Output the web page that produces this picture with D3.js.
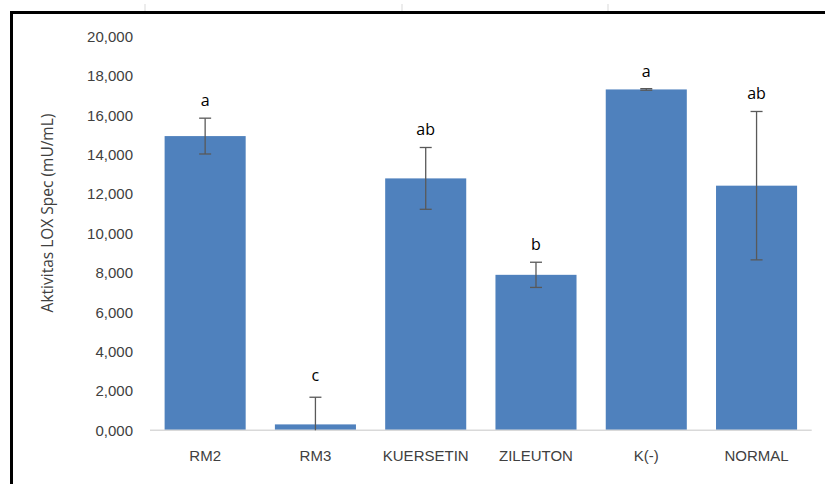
<!DOCTYPE html>
<html>
<head>
<meta charset="utf-8">
<script src="https://cdn.jsdelivr.net/npm/d3@7"></script>
<style>
	body { margin: 0; background: #fff; }
	svg { display: block; font-family: "Open Sans", sans-serif; }
</style>
</head>
<body>
<svg id="chart"></svg>
<script>
// chart data
const categories = ["RM2", "RM3", "KUERSETIN", "ZILEUTON", "K(-)", "NORMAL"];
const means = [14950, 300, 12800, 7900, 17320, 12430];
const errors = [910, 1380, 1570, 640, 40, 3770];
const letters = ["a", "c", "ab", "b", "a", "ab"];
const yTicks = [0, 2000, 4000, 6000, 8000, 10000, 12000, 14000, 16000, 18000, 20000];

const w = 825;
const h = 484;
const margin = { top: 36.7, right: 13.3, bottom: 53.7, left: 150 };

const svg = d3.select("#chart").attr("width", w).attr("height", h);

// frame of the chart box (black border on top and left)
svg.append("line")
	.attr("x1", 11.5).attr("x2", w)
	.attr("y1", 12.5).attr("y2", 12.5)
	.attr("stroke", "#000").attr("stroke-width", 3);
svg.append("line")
	.attr("x1", 11.5).attr("x2", 11.5)
	.attr("y1", 11).attr("y2", h)
	.attr("stroke", "#000").attr("stroke-width", 3);
// faint sheet grid marks above the border
[145, 402, 608].forEach((x) => {
	svg.append("line")
		.attr("x1", x).attr("x2", x)
		.attr("y1", 4).attr("y2", 11)
		.attr("stroke", "#d9d9d9").attr("stroke-width", 1);
});

const xScale = d3
	.scaleBand()
	.domain(categories)
	.range([margin.left, w - margin.right])
	.paddingInner(0.265)
	.paddingOuter(0.1325);

const yScale = d3
	.scaleLinear()
	.domain([0, 20000])
	.range([h - margin.bottom, margin.top]);

const fmt = (v) => d3.format(",")(v / 1000 | 0) + ",000";

// y axis labels only, no line
const yAxis = d3.axisLeft(yScale).tickValues(yTicks).tickSize(0).tickPadding(17)
	.tickFormat((d) => (d === 0 ? "0,000" : fmt(d)));
const gy = svg.append("g")
	.attr("transform", "translate(" + margin.left + ",0)")
	.call(yAxis);
gy.select(".domain").remove();
gy.selectAll("text")
	.attr("fill", "#404040")
	.style("font-size", "15px");

// axis title
svg.append("text")
	.attr("transform", "translate(47," + 213 + ") rotate(-90)")
	.attr("text-anchor", "middle")
	.attr("dominant-baseline", "central")
	.attr("fill", "#404040")
	.style("font-size", "15.5px")
	.text("Aktivitas LOX Spec (mU/mL)");

const rows = categories.map((c, i) => ({ c: c, m: means[i], e: errors[i], l: letters[i] }));

// bars
svg.selectAll("rect.bar")
	.data(rows)
	.enter()
	.append("rect")
	.attr("class", "bar")
	.attr("x", (d) => xScale(d.c))
	.attr("y", (d) => yScale(d.m))
	.attr("width", xScale.bandwidth())
	.attr("height", (d) => yScale(0) - yScale(d.m))
	.attr("fill", "#4f81bd");

// x axis line and labels
const xAxis = d3.axisBottom(xScale).tickSize(0).tickPadding(20);
const gx = svg.append("g")
	.attr("transform", "translate(0," + yScale(0) + ")")
	.call(xAxis);
gx.select(".domain").attr("stroke", "#d9d9d9").attr("stroke-width", 1.5)
	.attr("d", "M" + margin.left + ",0H" + (w - margin.right));
gx.selectAll("text")
	.attr("fill", "#404040")
	.style("font-size", "15px");

// error bars (clipped at zero like the original)
const cap = 6;
const eb = svg.selectAll("g.err").data(rows).enter().append("g").attr("class", "err");
eb.append("line")
	.attr("x1", (d) => xScale(d.c) + xScale.bandwidth() / 2)
	.attr("x2", (d) => xScale(d.c) + xScale.bandwidth() / 2)
	.attr("y1", (d) => yScale(Math.max(0, d.m - d.e)))
	.attr("y2", (d) => yScale(d.m + d.e))
	.attr("stroke", "#595959").attr("stroke-width", 1.3);
eb.append("line")
	.attr("x1", (d) => xScale(d.c) + xScale.bandwidth() / 2 - cap)
	.attr("x2", (d) => xScale(d.c) + xScale.bandwidth() / 2 + cap)
	.attr("y1", (d) => yScale(d.m + d.e))
	.attr("y2", (d) => yScale(d.m + d.e))
	.attr("stroke", "#595959").attr("stroke-width", 1.3);
eb.filter((d) => d.m - d.e > 0)
	.append("line")
	.attr("x1", (d) => xScale(d.c) + xScale.bandwidth() / 2 - cap)
	.attr("x2", (d) => xScale(d.c) + xScale.bandwidth() / 2 + cap)
	.attr("y1", (d) => yScale(d.m - d.e))
	.attr("y2", (d) => yScale(d.m - d.e))
	.attr("stroke", "#595959").attr("stroke-width", 1.3);

// significance letters
svg.selectAll("text.sig")
	.data(rows)
	.enter()
	.append("text")
	.attr("class", "sig")
	.attr("x", (d) => xScale(d.c) + xScale.bandwidth() / 2)
	.attr("y", (d) => yScale(d.m + d.e) - (d.m - d.e < 0 ? 16 : 12))
	.attr("text-anchor", "middle")
	.attr("fill", "#000")
	.style("font-size", "16px")
	.text((d) => d.l);
</script>
</body>
</html>
